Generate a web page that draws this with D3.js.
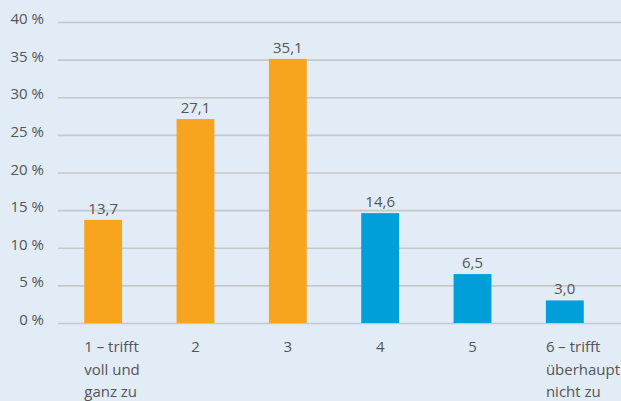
<!DOCTYPE html>
<html>
<head>
<meta charset="utf-8">
<script src="https://cdn.jsdelivr.net/npm/d3@7"></script>
<style>
  html, body { margin: 0; padding: 0; background: #e1ecf7; }
  svg { display: block; }
  text { font-family: "Open Sans", "Noto Sans", sans-serif; fill: #555; }
</style>
</head>
<body>
<svg id="chart" width="621" height="401"></svg>
<script>
// Survey answers on a 1–6 agreement scale, share of respondents in %
const categories = [
  ["1 – trifft", "voll und", "ganz zu"],
  ["2"],
  ["3"],
  ["4"],
  ["5"],
  ["6 – trifft", "überhaupt", "nicht zu"]
];
const values = [13.7, 27.1, 35.1, 14.6, 6.5, 3.0];
const valueLabels = ["13,7", "27,1", "35,1", "14,6", "6,5", "3,0"];
const barColors = ["#f7a51e", "#f7a51e", "#f7a51e", "#009fda", "#009fda", "#009fda"];
const yTicks = [0, 5, 10, 15, 20, 25, 30, 35, 40];

const W = 621, H = 401;
const svg = d3.select("#chart");

svg.append("rect").attr("width", W).attr("height", H).attr("fill", "#e1ecf7");

const x = d3.scaleBand()
  .domain(d3.range(values.length))
  .range([57, 611])
  .paddingInner(0.59)
  .paddingOuter(0.295);

const y = d3.scaleLinear().domain([0, 40]).range([323, 22]);

// horizontal gridlines with percent labels sitting on the lines
const yAxis = d3.axisLeft(y)
  .tickValues(yTicks)
  .tickFormat(d => d + " %")
  .tickSize(-(W - 58))
  .tickPadding(14);

const gy = svg.append("g").attr("transform", "translate(58,0)").call(yAxis);
gy.select(".domain").remove();
gy.selectAll(".tick line").attr("stroke", "#c6c8ca").attr("stroke-width", 1.7);
gy.selectAll(".tick text")
  .attr("x", -14)
  .attr("y", 1.5)
  .attr("dy", 0)
  .style("font-size", "15px")
  .attr("fill", "#555");

// bars
svg.append("g").selectAll("rect")
  .data(values)
  .join("rect")
  .attr("x", (d, i) => x(i))
  .attr("width", x.bandwidth())
  .attr("y", d => y(d))
  .attr("height", d => y(0) - y(d))
  .attr("fill", (d, i) => barColors[i]);

// value labels above bars
svg.append("g").selectAll("text")
  .data(values)
  .join("text")
  .attr("x", (d, i) => x(i) + x.bandwidth() / 2)
  .attr("y", d => y(d) - 6)
  .attr("text-anchor", "middle")
  .style("font-size", "15px")
  .text((d, i) => valueLabels[i]);

// category labels below the baseline
const cat = svg.append("g").selectAll("text")
  .data(categories)
  .join("text")
  .attr("x", (d, i) => d.length > 1 ? x(i) : x(i) + x.bandwidth() / 2)
  .attr("y", 352)
  .attr("text-anchor", d => d.length > 1 ? "start" : "middle")
  .style("font-size", "15px");

cat.selectAll("tspan")
  .data(d => d)
  .join("tspan")
  .attr("x", function () { return d3.select(this.parentNode).attr("x"); })
  .attr("dy", (d, j) => j === 0 ? 0 : 22.7)
  .text(d => d);
</script>
</body>
</html>
